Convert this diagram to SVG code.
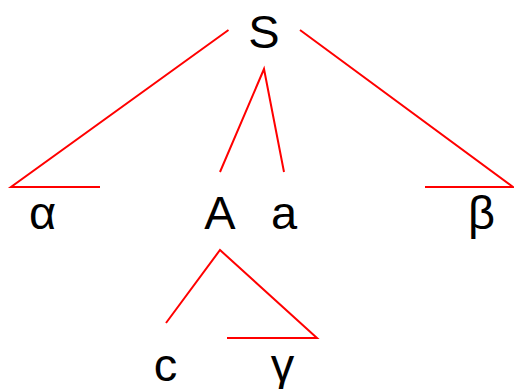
<svg xmlns="http://www.w3.org/2000/svg" width="514" height="389" viewBox="0 0 514 389">
<style>
.t{font-family:"Liberation Sans",Arial,sans-serif;font-size:47px;fill:#000;text-anchor:middle}
.e{stroke:#ff0000;stroke-width:2;fill:none}
</style>
<rect width="514" height="389" fill="#fff"/>
<g id="connectors">
<polyline class="e" points="228.5,30 11,187 100,187"/>
<polyline class="e" points="300,30 513,187 425,187"/>
<polyline class="e" points="220,172 264,69 284,172"/>
<polyline class="e" points="166,323 220,250 317,338 227,338"/>
</g>
<g id="S"><text class="t" x="264" y="48">S</text></g>
<g id="alpha"><text class="t" x="42.5" y="229">α</text></g>
<g id="A"><text class="t" x="220" y="229">A</text></g>
<g id="a"><text class="t" x="284" y="229">a</text></g>
<g id="beta"><text class="t" x="481.5" y="229">β</text></g>
<g id="c"><text class="t" x="165.5" y="381">c</text></g>
<g id="gamma"><text class="t" x="282.5" y="381">γ</text></g>
</svg>
